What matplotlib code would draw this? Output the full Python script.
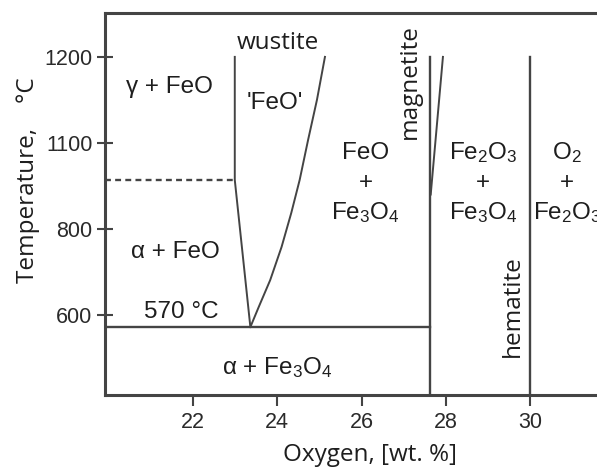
import matplotlib
matplotlib.use("Agg")
import matplotlib.pyplot as plt

# ---- data ----
x_ticks = [22, 24, 26, 28, 30]
x_tick_labels = ["22", "24", "26", "28", "30"]
y_ticks = [1200, 1000, 800, 600]
y_tick_labels = ["1200", "1100", "800", "600"]

wustite_left_x = [22.99, 22.99, 23.36]
wustite_left_T = [1200, 914, 572]
wustite_right_x = [23.36, 23.56, 23.83, 24.10, 24.33, 24.53, 24.73, 24.94, 25.13]
wustite_right_T = [572, 619, 681, 758, 837, 914, 1007, 1100, 1200]
magnetite_x = 27.62
magnetite_right_x = [27.64, 27.93]
magnetite_right_T = [880, 1200]
hematite_x = 30.0
eutectoid_T = 572
alpha_gamma_T = 914
T_top = 1200

XMIN, XMAX = 19.91, 31.8
YMIN, YMAX = 414, 1302

plt.rcParams['mathtext.fontset'] = 'custom'
plt.rcParams['mathtext.rm'] = 'Liberation Sans'
plt.rcParams['mathtext.it'] = 'Liberation Sans'

fig = plt.figure(figsize=(5.97, 4.69), dpi=100)
ax = fig.add_axes([105/597, 1-395/469, 501/597, (395-13)/469])
ax.set_xlim(XMIN, XMAX)
ax.set_ylim(YMIN, YMAX)

lc = "#444444"
lw = 1.4
ax.plot(wustite_left_x, wustite_left_T, color=lc, lw=lw)
ax.plot(wustite_right_x, wustite_right_T, color=lc, lw=lw, solid_joinstyle='round')
ax.plot([magnetite_x, magnetite_x], [YMIN, T_top], color=lc, lw=lw+0.3)
ax.plot(magnetite_right_x, magnetite_right_T, color=lc, lw=lw)
ax.plot([hematite_x, hematite_x], [YMIN, T_top], color=lc, lw=lw+0.3)
ax.plot([XMIN, magnetite_x], [eutectoid_T, eutectoid_T], color=lc, lw=lw+0.3)
ax.plot([XMIN, wustite_left_x[0]], [alpha_gamma_T, alpha_gamma_T], color=lc, lw=lw+0.3,
        ls=(0, (2.5, 1.8)))

for s in ax.spines.values():
    s.set_color(lc)
    s.set_linewidth(2.2)

ax.set_xticks(x_ticks)
ax.set_xticklabels(x_tick_labels)
ax.set_yticks(y_ticks)
ax.set_yticklabels(y_tick_labels)
ax.tick_params(axis='x', direction='out', length=8, width=1.5, color=lc, pad=4,
               labelsize=15.5, labelcolor="#2a2a2a")
ax.tick_params(axis='y', direction='inout', length=12, width=1.5, color=lc, pad=3,
               labelsize=15.5, labelcolor="#2a2a2a")
for lab in ax.get_xticklabels() + ax.get_yticklabels():
    lab.set_fontfamily('Liberation Sans')

tf = dict(family='Liberation Sans', fontsize=17.5, color='#1e1e1e', ha='center', va='center')
sf = dict(family='Open Sans', fontsize=17.5, color='#1e1e1e', ha='center', va='center')

ax.text(24.01, 1233, "wustite", **sf)
ax.text(23.94, 1093, "'FeO'", **tf)
ax.text(21.45, 1130, "γ + FeO", **tf)
ax.text(21.59, 747, "α + FeO", **tf)
ax.text(21.73, 607, "570 °C", **tf)
ax.text(23.99, 477, "α + Fe$_3$O$_4$", **tf)

ax.text(26.10, 977, "FeO", **tf)
ax.text(26.10, 907, "+", **tf)
ax.text(26.10, 837, "Fe$_3$O$_4$", **tf)

ax.text(28.88, 977, "Fe$_2$O$_3$", **tf)
ax.text(28.88, 907, "+", **tf)
ax.text(28.88, 837, "Fe$_3$O$_4$", **tf)

ax.text(30.87, 977, "O$_2$", **tf)
ax.text(30.87, 907, "+", **tf)
ax.text(30.87, 837, "Fe$_2$O$_3$", **tf)

ax.text(27.14, 1142, "magnetite", rotation=90, **sf)
ax.text(29.59, 621, "hematite", rotation=90, **sf)

fig.text(28/597, 1-180/469, "Temperature,    °C", rotation=90, family='Open Sans',
         fontsize=17.5, color='#1e1e1e', ha='center', va='center')
fig.text(370/597, 1-455/469, "Oxygen, [wt. %]", family='Open Sans',
         fontsize=17.5, color='#1e1e1e', ha='center', va='center')

fig.savefig("out.png", dpi=100)
